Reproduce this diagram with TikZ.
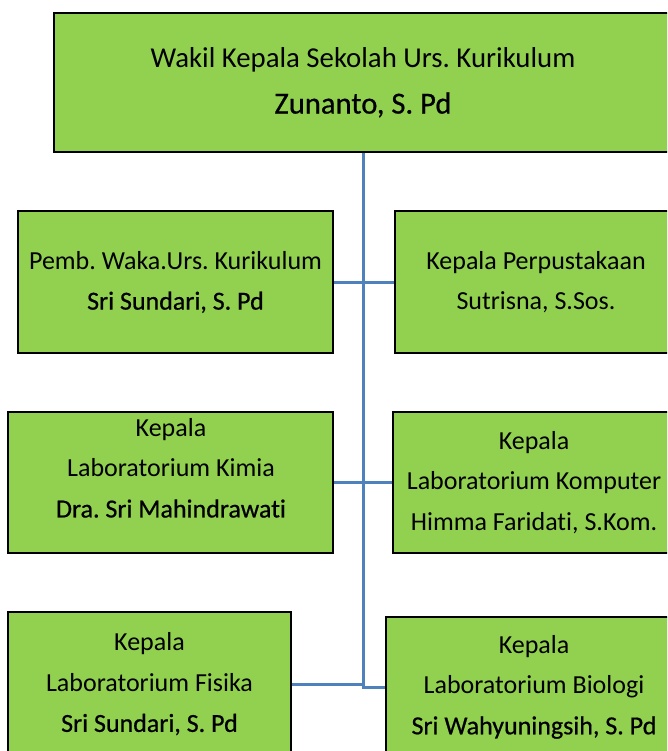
\documentclass[tikz,border=0pt]{standalone}
\usepackage{fontspec}
\setmainfont{Carlito}[Ligatures=NoCommon]
\newfontfamily\namefont{Carlito}[Ligatures=NoCommon,FakeBold=0.6]
\definecolor{boxgreen}{RGB}{146,208,80}
\definecolor{lineblue}{RGB}{79,129,189}
\frenchspacing

\begin{document}
\begin{tikzpicture}[x=1pt,y=-1pt,
  block/.style={rectangle,draw=black,line width=2pt,fill=boxgreen,align=center,
    inner sep=0pt,font=\fontsize{26}{40.5}\selectfont},
  link/.style={draw=lineblue,line width=3pt}]
\path[use as bounding box,clip] (0,0) rectangle (667,751);

% top
\node[block,minimum width=618pt,minimum height=139pt,font=\fontsize{28.8}{46}\selectfont]
  (waka) at (363,82.5) {Wakil Kepala Sekolah Urs. Kurikulum\\
  {\namefont\fontsize{30.6}{46}\selectfont Zunanto, S. Pd}};

\path
(175.5,282) node[block,minimum width=315pt,minimum height=142pt] (pemb)
  {Pemb. Waka.Urs. Kurikulum\\{\namefont Sri Sundari, S. Pd}}
(536,282) node[block,minimum width=282pt,minimum height=142pt] (perpus)
  {Kepala Perpustakaan\\Sutrisna, S.Sos.}
(170.5,482.5) node[block,minimum width=325pt,minimum height=141pt] (kimia) {}
(534,482.5) node[block,minimum width=282pt,minimum height=141pt] (komputer)
  {Kepala\\Laboratorium Komputer\\Himma Faridati, S.Kom.}
(149.5,684) node[block,minimum width=283pt,minimum height=144pt] (fisika)
  {Kepala\\Laboratorium Fisika\\{\namefont Sri Sundari, S. Pd}}
(534,687) node[block,minimum width=296pt,minimum height=140pt] (biologi)
  {Kepala\\Laboratorium Biologi\\{\namefont Sri Wahyuningsih, S. Pd}}
;
\node[align=center,inner sep=0pt,font=\fontsize{26}{40.5}\selectfont]
  (kimiatext) at (171,468) {Kepala\\Laboratorium Kimia\\{\namefont Dra. Sri Mahindrawati}};

% lines
\path[link] (waka.south) |- (biologi.west);
\path[link] (pemb.east) -- (perpus.west);
\path[link] (kimia.east) -- (komputer.west);
\path[link] (fisika.east) -- (fisika.east -| waka.south);
\end{tikzpicture}
\end{document}
